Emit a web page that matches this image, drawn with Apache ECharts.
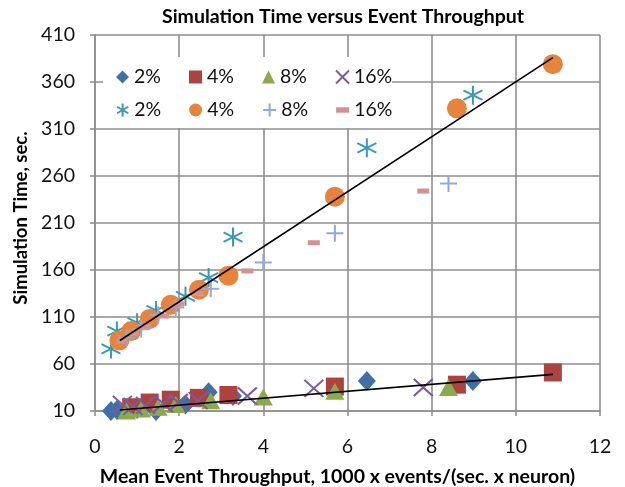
<!DOCTYPE html>
<html>
<head>
<meta charset="utf-8">
<script src="https://cdn.jsdelivr.net/npm/echarts@6/dist/echarts.min.js"></script>
<style>html,body{margin:0;padding:0;background:#fff}#c{width:625px;height:487px}</style>
</head>
<body>
<div id="c"></div>
<script>
// Throughput (x) per percentage group
const x2 = [0.38, 0.52, 1.0, 1.45, 2.15, 2.7, 3.28, 6.46, 8.98];
const x4 = [0.58, 0.86, 1.3, 1.8, 2.47, 3.17, 5.7, 8.6, 10.88];
const x8 = [0.75, 1.1, 1.5, 1.92, 2.75, 4.0, 5.7, 8.4];
const x16 = [0.65, 0.9, 1.2, 1.62, 1.98, 2.45, 3.62, 5.2, 7.8];
// Lower group simulation times
const low2 = [10, 11, 12, 10, 17, 30, 26, 42, 42];
const low4 = [8, 14, 19, 22, 24, 27, 36, 38, 51];
const low8 = [10, 12, 14, 17, 21, 25, 31, 35];
const low16 = [17, 15, 16, 18, 19, 21, 26, 34, 35];
// Upper group simulation times
const up2 = [76, 95, 104, 117, 132, 152, 195, 290, 346];
const up4 = [85, 95, 108, 123, 139, 154, 238, 332, 379];
const up8 = [88, 97, 112, 120, 140, 168, 199, 252];
const up16 = [84, 92, 100, 111, 124, 135, 159, 189, 244];
// Trend lines
const trendX = [0.59, 10.88];
const upTrendY = [85, 386];
const lowTrendY = [11, 49];
const legendLabels = ['2%', '4%', '8%', '16%'];
const title = 'Simulation Time versus Event Throughput';
const xTitle = 'Mean Event Throughput, 1000 x events/(sec. x neuron)';
const yTitle = 'Simulation Time, sec.';

const pts = (xs, ys) => xs.map((x, i) => [x, ys[i]]);
const FONT = 'Lato';
const STAR = 'path://M0,-10 L0,10 M-8.66,-5 L8.66,5 M-8.66,5 L8.66,-5';
const PLUS = 'path://M0,-10 L0,10 M-10,0 L10,0';
const CROSS = 'path://M-10,-10 L10,10 M-10,10 L10,-10';
const DASH = 'path://M0,0 L12,0 L12,5 L0,5 Z';

function strokeSeries(name, data, sym, size, color, w) {
  return {type: 'scatter', name, data, symbol: sym, symbolSize: size,
    itemStyle: {color: 'rgba(0,0,0,0)', borderColor: color, borderWidth: w, opacity: 1}};
}
function fillSeries(name, data, sym, size, color) {
  return {type: 'scatter', name, data, symbol: sym, symbolSize: size,
    itemStyle: {color, opacity: 1}};
}

const series = [
  fillSeries('2% a', pts(x2, low2), 'diamond', [18, 20], '#4070A8'),
  fillSeries('4% a', pts(x4, low4), 'rect', 18, '#AD423F'),
  fillSeries('8% a', pts(x8, low8), 'triangle', [19, 17], '#8BAA4B'),
  strokeSeries('16% a', pts(x16, low16), CROSS, [19, 17], '#7A5C9E', 2),
  strokeSeries('2% b', pts(x2, up2), STAR, 19, '#3A9AB4', 2),
  fillSeries('4% b', pts(x4, up4), 'circle', 20, '#E5843A'),
  strokeSeries('8% b', pts(x8, up8), PLUS, 17, '#8EAADB', 2),
  fillSeries('16% b', pts(x16, up16), DASH, [12, 5], '#D4918F'),
  {type: 'line', name: 'trend up', data: pts(trendX, upTrendY), symbol: 'none',
    lineStyle: {color: '#000', width: 1.6}, silent: true},
  {type: 'line', name: 'trend low', data: pts(trendX, lowTrendY), symbol: 'none',
    lineStyle: {color: '#000', width: 1.6}, silent: true}
];

function legend(suffix, top, icons) {
  return {
    top, left: 116, padding: 0, itemGap: 10, itemWidth: 13, itemHeight: 13,
    orient: 'horizontal', selectedMode: false,
    data: legendLabels.map((l, i) => ({name: l + ' ' + suffix, icon: icons[i]})),
    formatter: n => n.split(' ')[0],
    textStyle: {fontFamily: FONT, fontSize: 19.5, color: '#111', width: 45, lineHeight: 22}
  };
}

const chart = echarts.init(document.getElementById('c'), null, {renderer: 'canvas'});
chart.setOption({
  animation: false,
  title: {text: title, left: 338, top: 2, textAlign: 'center',
    textStyle: {fontFamily: FONT, fontSize: 19.5, fontWeight: 'bold', color: '#000'}},
  grid: {left: 95, right: 25, top: 35, bottom: 76, containLabel: false, outerBoundsMode: 'none'},
  graphic: [{type: 'rect', shape: {x: 103, y: 57, width: 289, height: 71}, style: {fill: '#fff'}, z: 1}],
  legend: [
    legend('a', 66, ['diamond', 'rect', 'triangle', CROSS]),
    legend('b', 99, [STAR, 'circle', PLUS, DASH])
  ],
  xAxis: {type: 'value', min: 0, max: 12, interval: 2,
    name: xTitle, nameLocation: 'middle', nameGap: 56,
    nameTextStyle: {fontFamily: FONT, fontSize: 19.5, fontWeight: 'bold', color: '#000', padding: [0, 20, 0, 0]},
    axisLine: {show: true, lineStyle: {color: '#8f8f8f', width: 1.6}},
    axisTick: {show: true, length: 5, lineStyle: {color: '#8f8f8f', width: 1.6}},
    axisLabel: {fontFamily: FONT, fontSize: 19.5, color: '#111', margin: 26},
    splitLine: {show: true, lineStyle: {color: '#8f8f8f', width: 1.6}}},
  yAxis: {type: 'value', min: 10, max: 410, interval: 50,
    name: yTitle, nameLocation: 'middle', nameGap: 62, nameRotate: 90,
    nameTextStyle: {fontFamily: FONT, fontSize: 18.5, fontWeight: 'bold', color: '#000', padding: [0, 0, 0, 10]},
    axisLine: {show: true, lineStyle: {color: '#8f8f8f', width: 1.6}},
    axisTick: {show: true, length: 5, lineStyle: {color: '#8f8f8f', width: 1.6}},
    axisLabel: {fontFamily: FONT, fontSize: 19.5, color: '#111', margin: 20},
    splitLine: {show: true, lineStyle: {color: '#8f8f8f', width: 1.6}}},
  series
});
</script>
</body>
</html>
